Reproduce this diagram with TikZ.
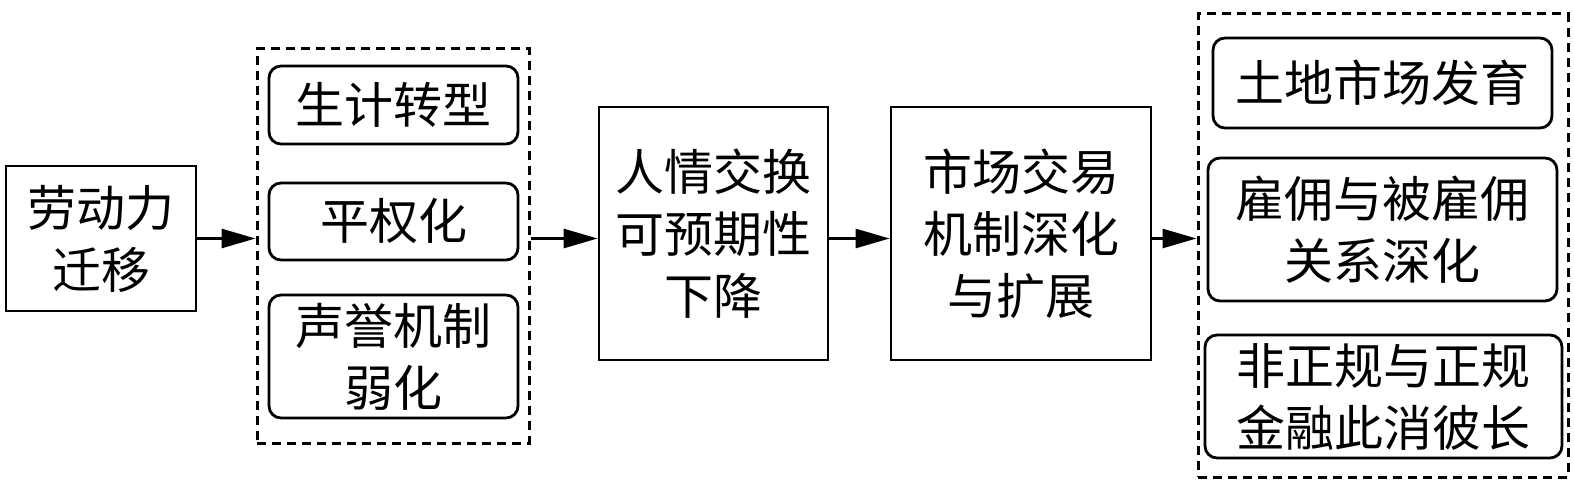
\documentclass[tikz,border=0pt]{standalone}
\usepackage{fontspec}
\newfontfamily\cjk{Noto Sans CJK SC}
\usepackage{tikz}
\usetikzlibrary{arrows.meta,positioning,calc}

\begin{document}
\begin{tikzpicture}[x=0.5pt,y=-0.5pt,
    every node/.style={font=\cjk\fontsize{24.5pt}{31pt}\selectfont, align=center, inner sep=0pt},
    plainbox/.style={draw, line width=1.4pt},
    roundbox/.style={draw, line width=1.4pt, rounded corners=6pt},
    groupbox/.style={draw, line width=1.5pt, dash pattern=on 4.5pt off 3pt},
    flow/.style={line width=1.4pt, -{Triangle[length=17pt,width=9.5pt]}}]
    \useasboundingbox (0,0) rectangle (1575,492);

    \node [plainbox, minimum width=95pt, minimum height=72.5pt] (migr) at (101,238.5) {劳动力\\迁移};

    \node [groupbox, minimum width=136pt, minimum height=197pt] (grpA) at (393,246) {};
    \node [roundbox, minimum width=124.5pt, minimum height=39pt] (live) at (393.5,105) {生计转型};
    \node [roundbox, minimum width=124.5pt, minimum height=38.5pt] (equal) at (393.5,221.5) {平权化};
    \node [roundbox, minimum width=124.5pt, minimum height=61.5pt] (repu) at (393.5,356.5) {声誉机制\\弱化};

    \node [plainbox, minimum width=114.5pt, minimum height=126.5pt] (exch) at (713.5,233.5) {人情交换\\可预期性\\下降};
    \node [plainbox, minimum width=130pt, minimum height=126.5pt] (mkt) at (1021,233.5) {市场交易\\机制深化\\与扩展};

    \node [groupbox, minimum width=185pt, minimum height=231.5pt] (grpB) at (1383,245.5) {};
    \node [roundbox, minimum width=169.5pt, minimum height=45pt] (land) at (1382.5,83) {土地市场发育};
    \node [roundbox, minimum width=174.5pt, minimum height=71.5pt] (hire) at (1382.5,229.5) {雇佣与被雇佣\\关系深化};
    \node [roundbox, minimum width=178.5pt, minimum height=61.5pt] (fin) at (1383.5,396.5) {非正规与正规\\金融此消彼长};

    \draw [flow] (migr.east) -- (migr.east -| grpA.west);
    \draw [flow] (grpA.east |- migr) -- (exch.west |- migr);
    \draw [flow] (exch.east |- migr) -- (mkt.west |- migr);
    \draw [flow] (mkt.east |- migr) -- (grpB.west |- migr);
\end{tikzpicture}
\end{document}
